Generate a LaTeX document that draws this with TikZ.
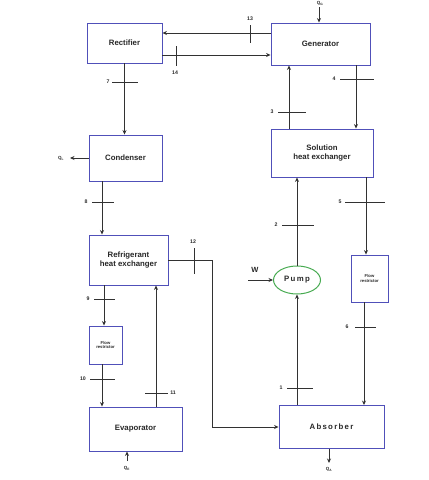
\documentclass[tikz,border=0pt]{standalone}
\usepackage{fontspec}
\setmainfont{Liberation Sans}
\usetikzlibrary{arrows.meta,shapes.geometric}
\definecolor{boxc}{RGB}{80,80,185}
\definecolor{linec}{RGB}{50,50,50}
\definecolor{txtc}{RGB}{40,40,40}
\definecolor{pumpc}{RGB}{70,170,80}
\tikzset{
  blk/.style={draw=boxc,line width=0.9pt,fill=white,inner sep=1pt,align=center,
    font=\fontsize{7.8}{9.5}\selectfont\bfseries,text=txtc},
  smallblk/.style={blk,font=\fontsize{4.2}{4.8}\selectfont\bfseries},
  flow/.style={draw=linec,line width=0.85pt},
  arr/.style={flow,-{Stealth[length=4.5pt,width=4pt]}},
  tick/.style={draw=linec,line width=0.85pt},
  num/.style={font=\fontsize{5.2}{6}\selectfont\bfseries,text=txtc,inner sep=0.5pt},
  qlab/.style={font=\fontsize{4.5}{5}\selectfont\bfseries,text=txtc,inner sep=0.5pt}
}
\begin{document}
\begin{tikzpicture}[x=1pt,y=-1pt]
\useasboundingbox (0,0) rectangle (429,480);
% blocks
\node[blk,minimum width=75pt,minimum height=40pt] (rect) at (124.5,43) {Rectifier};
\node[blk,minimum width=99pt,minimum height=42pt] (gen) at (320.5,44) {Generator};
\node[blk,minimum width=73pt,minimum height=46pt] (cond) at (125.5,158) {Condenser};
\node[blk,minimum width=79pt,minimum height=50pt] (rhx) at (128.5,260) {Refrigerant\\heat exchanger};
\node[blk,minimum width=102pt,minimum height=48pt] (shx) at (322,153) {Solution\\heat exchanger};
\node[ellipse,draw=pumpc,line width=1pt,minimum width=47pt,minimum height=28pt,inner sep=0pt,
  font=\fontsize{7.8}{9}\selectfont\bfseries,text=txtc] (pump) at (297,280) {P\,u\,m\,p};
\node[smallblk,minimum width=37pt,minimum height=47pt] (frr) at (369.5,278.5) {Flow\\restrictor};
\node[smallblk,minimum width=33pt,minimum height=38pt] (frl) at (105.5,345) {Flow\\restrictor};
\node[blk,minimum width=93pt,minimum height=44pt] (evap) at (135.5,429) {Evaporator};
\node[blk,minimum width=105pt,minimum height=43pt] (abs) at (331.5,427) {A\,b\,s\,o\,r\,b\,e\,r};
% free ends
\coordinate (qg) at (319,7);
\coordinate (ql) at (70,158);
\coordinate (w) at (248,280);
\coordinate (qe) at (127,461);
\coordinate (qa) at (329,463);
% connectors
\draw[arr] ([yshift=11pt]gen.west) -- ([yshift=11pt]gen.west -| rect.east);
\draw[arr] ([yshift=-11pt]gen.west -| rect.east) -- ([yshift=-11pt]gen.west);
\draw[arr] (rect.south) -- (rect.south |- cond.north);
\draw[arr] (qg) -- (qg |- gen.north);
\draw[arr] (cond.west) -- (ql);
\draw[arr] (cond.south -| 102,0) -- (rhx.north -| 102,0);
\draw[arr] (shx.north -| 289,0) -- (gen.south -| 289,0);
\draw[arr] (gen.south -| 356,0) -- (shx.north -| 356,0);
\draw[arr] (pump.north) -- (pump.north |- shx.south);
\draw[arr] (shx.south -| 366,0) -- (frr.north -| 366,0);
\draw[arr] (frr.south -| 364,0) -- (abs.north -| 364,0);
\draw[arr] (abs.north -| pump.south) -- (pump.south);
\draw[arr] (w) -- (pump.west);
\draw[arr] (rhx.east) -- (212,260) |- (abs.west);
\draw[arr] (rhx.south -| 104,0) -- (frl.north -| 104,0);
\draw[arr] (frl.south -| 102,0) -- (evap.north -| 102,0);
\draw[arr] (evap.north -| 156,0) -- (rhx.south -| 156,0);
\draw[arr] (qe) -- (qe |- evap.south);
\draw[arr] (abs.south -| qa) -- (qa);
% ticks
\draw[tick] (250,25) -- (250,43);
\draw[tick] (176,46) -- (176,66);
\draw[tick] (112,82) -- (138,82);
\draw[tick] (92,202) -- (114,202);
\draw[tick] (340,79) -- (374,79);
\draw[tick] (278,112) -- (306,112);
\draw[tick] (282,225) -- (314,225);
\draw[tick] (345,202) -- (385,202);
\draw[tick] (194,248) -- (194,274);
\draw[tick] (355,327) -- (376,327);
\draw[tick] (94,299) -- (115,299);
\draw[tick] (90,379) -- (115,379);
\draw[tick] (145,393) -- (168,393);
\draw[tick] (287,388) -- (313,388);
% labels
\node[num] (l13) at (250,19) {13};
\node[num] (l14) at (175,73) {14};
\node[num] (l7) at (108,82) {7};
\node[num] (l8) at (86,202) {8};
\node[num] (l4) at (334,79) {4};
\node[num] (l3) at (272,112) {3};
\node[num] (l2) at (276,225) {2};
\node[num] (l5) at (340,202) {5};
\node[num] (l12) at (193,242) {12};
\node[num] (l6) at (347,327) {6};
\node[num] (l9) at (88,299) {9};
\node[num] (l10) at (83,379) {10};
\node[num] (l11) at (173,393) {11};
\node[num] (l1) at (281,388) {1};
\node[font=\fontsize{7.5}{8}\selectfont\bfseries,text=txtc] (lw) at (255,270) {W};
\node[qlab] (lqg) at (320,3.5) {Q\textsubscript{G}};
\node[qlab] (lql) at (61,158) {Q\textsubscript{L}};
\node[qlab] (lqe) at (127,468) {Q\textsubscript{E}};
\node[qlab] (lqa) at (329,469) {Q\textsubscript{A}};
\end{tikzpicture}
\end{document}
